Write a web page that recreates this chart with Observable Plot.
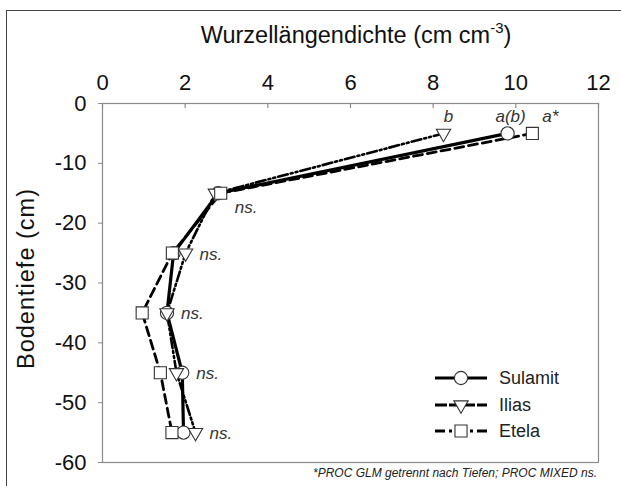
<!DOCTYPE html>
<html>
<head>
<meta charset="utf-8">
<script src="https://cdn.jsdelivr.net/npm/d3@7"></script>
<script src="https://cdn.jsdelivr.net/npm/@observablehq/plot@0.6"></script>
<style>
  html, body { margin: 0; padding: 0; background: #fff; overflow: hidden; }
  body { width: 621px; height: 486px; position: relative; font-family: "Liberation Sans", Arial, sans-serif; }
  #outer { position: absolute; left: 6px; top: 10px; width: 700px; height: 600px; border-left: 1.5px solid #444; border-top: 1.5px solid #444; box-sizing: border-box; }
  #chart { position: absolute; left: 0; top: 0; }
  #legend { position: absolute; left: 0; top: 0; pointer-events: none; }
</style>
</head>
<body>
<div id="outer"></div>
<div id="chart"></div>
<div id="legend"></div>
<script>
// ---- data ----
const depths = [-5, -15, -25, -35, -45, -55];
const sulamit = [9.8, 2.8, 1.72, 1.56, 1.93, 1.96];
const ilias   = [8.25, 2.73, 2.01, 1.56, 1.79, 2.25];
const etela   = [10.4, 2.86, 1.69, 0.96, 1.40, 1.68];
const seriesNames = ["Sulamit", "Ilias", "Etela"];
const sigLetters = ["a(b)", "b", "a*"];
const nsDepths = [-15, -25, -35, -45, -55];
const xTicks = [0, 2, 4, 6, 8, 10, 12];
const yTicks = [0, -10, -20, -30, -40, -50, -60];
const xTitle = "Wurzellängendichte (cm cm";
const xTitleSup = "-3";
const yTitle = "Bodentiefe (cm)";
const caption = "*PROC GLM getrennt nach Tiefen; PROC MIXED ns.";

// ---- build tables ----
const seriesValues = [sulamit, ilias, etela];
const rows = seriesNames.map((name, i) => depths.map((d, j) => ({series: name, depth: d, value: seriesValues[i][j]})));
const nsRows = nsDepths.map(d => {
  const j = depths.indexOf(d);
  return {depth: d, value: Math.max(sulamit[j], ilias[j], etela[j])};
});
const topRows = seriesNames.map((name, i) => ({series: name, label: sigLetters[i], depth: depths[0], value: seriesValues[i][0]}));

const triangleDown = {
  draw(context, size) {
    const y = Math.sqrt(size / (Math.sqrt(3) * 3));
    context.moveTo(0, 2 * y);
    context.lineTo(-Math.sqrt(3) * y, -y);
    context.lineTo(Math.sqrt(3) * y, -y);
    context.closePath();
  }
};

const styles = {
  Sulamit: {dash: null, width: 3.2, symbol: "circle", r: 6.6, legendDash: null},
  Ilias: {dash: "10,3,2,3,2,3", width: 2.6, symbol: triangleDown, r: 5.3, legendDash: "12,2"},
  Etela: {dash: "9,5", width: 2.8, symbol: "square", r: 6.8, legendDash: "10,4,3,4"}
};

const font = "Liberation Sans, Arial, sans-serif";
const gray = "#8a8a8a";

const marks = [
  Plot.frame({stroke: gray, strokeWidth: 1.2}),
  Plot.ruleX(xTicks, {x: d => d, y1: 0, y2: -0.85, stroke: gray, strokeWidth: 1.2}),
  Plot.axisX({anchor: "top", ticks: xTicks, tickSize: 0, tickPadding: 14, fontSize: 22, label: null, fill: "#111"}),
  Plot.axisY({ticks: yTicks, tickSize: 4, tickPadding: 12, fontSize: 22, label: null, stroke: gray, fill: "#111", tickFormat: d => String(d)})
];
seriesNames.forEach((name, i) => {
  const s = styles[name];
  marks.push(Plot.line(rows[i], {x: "value", y: "depth", stroke: "#000", strokeWidth: s.width, strokeDasharray: s.dash, strokeLinejoin: "round"}));
});
seriesNames.forEach((name, i) => {
  const s = styles[name];
  marks.push(Plot.dot(rows[i], {x: "value", y: "depth", symbol: s.symbol, r: s.r, fill: "white", stroke: "#333", strokeWidth: 1.1}));
});
const dxs = [3, 5, 18];
topRows.forEach((t, i) => {
  marks.push(Plot.text([t], {x: "value", y: "depth", text: "label", dx: dxs[i], dy: -17, fontSize: 17, fontStyle: "italic", fill: "#333"}));
});
marks.push(Plot.text(nsRows.filter(d => d.depth === -15), {x: "value", y: "depth", text: () => "ns.", dx: 14, dy: 14, textAnchor: "start", fontSize: 17, fontStyle: "italic", fill: "#333"}));
marks.push(Plot.text(nsRows.filter(d => d.depth !== -15), {x: "value", y: "depth", text: () => "ns.", dx: 14, dy: 1, textAnchor: "start", fontSize: 17, fontStyle: "italic", fill: "#333"}));

const chart = Plot.plot({
  width: 621,
  height: 486,
  marginLeft: 102,
  marginRight: 23,
  marginTop: 103,
  marginBottom: 24,
  style: {fontFamily: font, background: "transparent", overflow: "visible"},
  x: {domain: [0, 12]},
  y: {domain: [-60, 0]},
  marks
});
document.getElementById("chart").appendChild(chart);

const svg = d3.select(chart);
const xt = svg.append("text")
  .attr("x", 356).attr("y", 43)
  .attr("text-anchor", "middle")
  .attr("font-size", 23.5).attr("fill", "#111").attr("font-family", font);
xt.append("tspan").text(xTitle);
xt.append("tspan").attr("dy", -10).attr("font-size", 15).text(xTitleSup);
xt.append("tspan").attr("dy", 10).text(")");

svg.append("text")
  .attr("transform", "translate(34,279) rotate(-90)")
  .attr("text-anchor", "middle")
  .attr("font-size", 23.5).attr("fill", "#111").attr("font-family", font)
  .attr("textLength", 180).attr("lengthAdjust", "spacing")
  .text(yTitle);

svg.append("text")
  .attr("x", 597).attr("y", 477)
  .attr("text-anchor", "end")
  .attr("font-size", 12).attr("font-style", "italic").attr("fill", "#222").attr("font-family", font)
  .text(caption);

// ---- legend ----
const lg = d3.select("#legend").append("svg").attr("width", 621).attr("height", 486);
const legendY = [378, 405, 431];
seriesNames.forEach((name, i) => {
  const s = styles[name];
  const y = legendY[i];
  const g = lg.append("g");
  g.append("line").attr("x1", 435).attr("x2", 487).attr("y1", y).attr("y2", y)
    .attr("stroke", "#000").attr("stroke-width", 3).attr("stroke-dasharray", s.legendDash);
  const sym = typeof s.symbol === "string" ? (s.symbol === "circle" ? d3.symbolCircle : d3.symbolSquare) : s.symbol;
  g.append("path").attr("d", d3.symbol(sym, Math.PI * s.r * s.r)())
    .attr("transform", `translate(461,${y})`)
    .attr("fill", "white").attr("stroke", "#333").attr("stroke-width", 1.1);
  g.append("text").attr("x", 499).attr("y", y).attr("dy", "0.36em")
    .attr("font-size", 18).attr("font-weight", 400).attr("stroke", "none").attr("fill", "#222").attr("font-family", font).text(name);
});
</script>
</body>
</html>
